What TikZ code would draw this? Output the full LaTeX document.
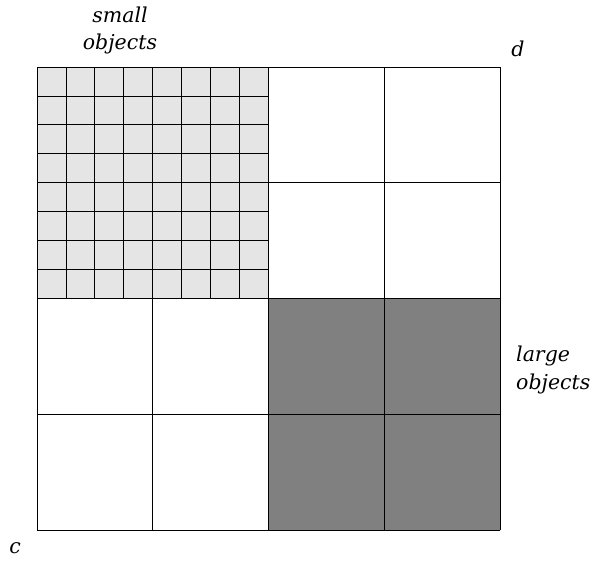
\documentclass[tikz,border=0pt]{standalone}
\usepackage{fontspec}
\setmainfont{DejaVu Serif}
\begin{document}
\begin{tikzpicture}[x=1pt,y=-1pt,
  cell/.style={draw=black,line width=0.8pt},
  lbl/.style={font=\fontsize{20.5}{27}\selectfont\itshape,inner sep=0pt}]
\useasboundingbox (0,0) rectangle (593,562);
\fill[gray!20] (37,67) rectangle (268.5,298.5);
\fill[gray] (268.5,298.5) rectangle (500,530);
\foreach \i in {0,...,8}{
  \draw[cell] ({37+\i*28.9375},67) -- ({37+\i*28.9375},298.5);
  \draw[cell] (37,{67+\i*28.9375}) -- (268.5,{67+\i*28.9375});
}
\foreach \i in {0,...,4}{
  \draw[cell] ({37+\i*115.75},67) -- ({37+\i*115.75},530);
  \draw[cell] (37,{67+\i*115.75}) -- (500,{67+\i*115.75});
}
\node[lbl,align=center] (so) at (120,30) {small\\objects};
\node[lbl] (d) at (518,49) {d};
\node[lbl,align=left,anchor=west,font=\fontsize{20.5}{28}\selectfont\itshape] (lo) at (516,370) {large\\objects};
\node[lbl] (c) at (15,548) {c};
\end{tikzpicture}
\end{document}
